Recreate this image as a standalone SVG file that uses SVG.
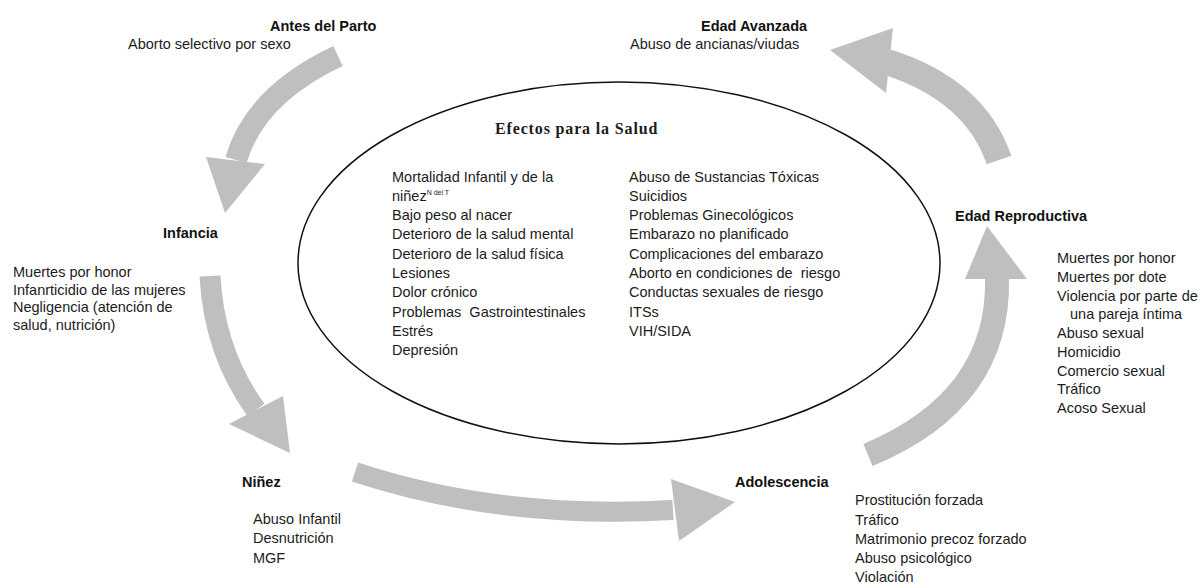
<svg xmlns="http://www.w3.org/2000/svg" width="1200" height="584" viewBox="0 0 1200 584">
<style>
text{font-family:"Liberation Sans",Arial,sans-serif;font-size:14.5px;fill:#1c1c1c}
.h{font-weight:bold;fill:#121212}
.t{font-family:"Liberation Serif","Times New Roman",serif;font-weight:bold;font-size:16px;letter-spacing:0.85px}
.sup{font-size:7px}
.body{fill:none;stroke:#bfbfbf;stroke-linecap:butt}
.head{fill:#bfbfbf}
</style>
<rect width="1200" height="584" fill="#ffffff"/>
<g id="connectors">
  <path class="body" d="M 338 56 Q 255 95 236 160" stroke-width="22"/>
  <polygon class="head" points="206,157 265,164 225,213"/>
  <path class="body" d="M 210 276 Q 214 352 256 410" stroke-width="21"/>
  <polygon class="head" points="229,424 283,396 290,453"/>
  <path class="body" d="M 355 472 Q 500 520 673 510" stroke-width="20"/>
  <polygon class="head" points="671,479 679,541 735,502"/>
  <path class="body" d="M 868 455 Q 1000 400 997 278" stroke-width="24"/>
  <polygon class="head" points="965,279 1027,279 987,226"/>
  <path class="body" d="M 999 160 Q 975 90 887 62" stroke-width="26"/>
  <polygon class="head" points="893,28 886,93 830,50"/>
</g>
<g id="efectos">
  <ellipse cx="619" cy="263" rx="321" ry="181" fill="none" stroke="#111" stroke-width="1.5"/>
  <text class="t" x="495" y="134">Efectos para la Salud</text>
  <text x="392" y="181.5">Mortalidad Infantil y de la</text>
  <text x="392" y="200.8">niñez<tspan class="sup" dy="-6">N del T</tspan></text>
  <text x="392" y="220.1">Bajo peso al nacer</text>
  <text x="392" y="239.4">Deterioro de la salud mental</text>
  <text x="392" y="258.7">Deterioro de la salud física</text>
  <text x="392" y="278">Lesiones</text>
  <text x="392" y="297.3">Dolor crónico</text>
  <text x="392" y="316.6" xml:space="preserve">Problemas  Gastrointestinales</text>
  <text x="392" y="335.9">Estrés</text>
  <text x="392" y="355.2">Depresión</text>
  <text x="629" y="181.5">Abuso de Sustancias Tóxicas</text>
  <text x="629" y="200.8">Suicidios</text>
  <text x="629" y="220.1">Problemas Ginecológicos</text>
  <text x="629" y="239.4">Embarazo no planificado</text>
  <text x="629" y="258.7">Complicaciones del embarazo</text>
  <text x="629" y="278" xml:space="preserve">Aborto en condiciones de  riesgo</text>
  <text x="629" y="297.3">Conductas sexuales de riesgo</text>
  <text x="629" y="316.6">ITSs</text>
  <text x="629" y="335.9">VIH/SIDA</text>
</g>
<g id="antes">
  <text class="h" x="270" y="31">Antes del Parto</text>
  <text x="128" y="48.5">Aborto selectivo por sexo</text>
</g>
<g id="avanzada">
  <text class="h" x="701" y="31">Edad Avanzada</text>
  <text x="630" y="48.5">Abuso de ancianas/viudas</text>
</g>
<g id="infancia">
  <text class="h" x="163" y="238">Infancia</text>
  <text x="13" y="277">Muertes por honor</text>
  <text x="13" y="294.5">Infanrticidio de las mujeres</text>
  <text x="13" y="312">Negligencia (atención de</text>
  <text x="13" y="329.5">salud, nutrición)</text>
</g>
<g id="reproductiva">
  <text class="h" x="955" y="221">Edad Reproductiva</text>
  <text x="1057" y="263">Muertes por honor</text>
  <text x="1057" y="281.75">Muertes por dote</text>
  <text x="1057" y="300.5">Violencia por parte de</text>
  <text x="1070" y="319.25">una pareja íntima</text>
  <text x="1057" y="338">Abuso sexual</text>
  <text x="1057" y="356.75">Homicidio</text>
  <text x="1057" y="375.5">Comercio sexual</text>
  <text x="1057" y="394.25">Tráfico</text>
  <text x="1057" y="413">Acoso Sexual</text>
</g>
<g id="ninez">
  <text class="h" x="242" y="487">Niñez</text>
  <text x="253" y="524">Abuso Infantil</text>
  <text x="253" y="543">Desnutrición</text>
  <text x="253" y="563">MGF</text>
</g>
<g id="adolescencia">
  <text class="h" x="735" y="487">Adolescencia</text>
  <text x="855" y="505">Prostitución forzada</text>
  <text x="855" y="524.5">Tráfico</text>
  <text x="855" y="544">Matrimonio precoz forzado</text>
  <text x="855" y="563">Abuso psicológico</text>
  <text x="855" y="582">Violación</text>
</g>
</svg>
